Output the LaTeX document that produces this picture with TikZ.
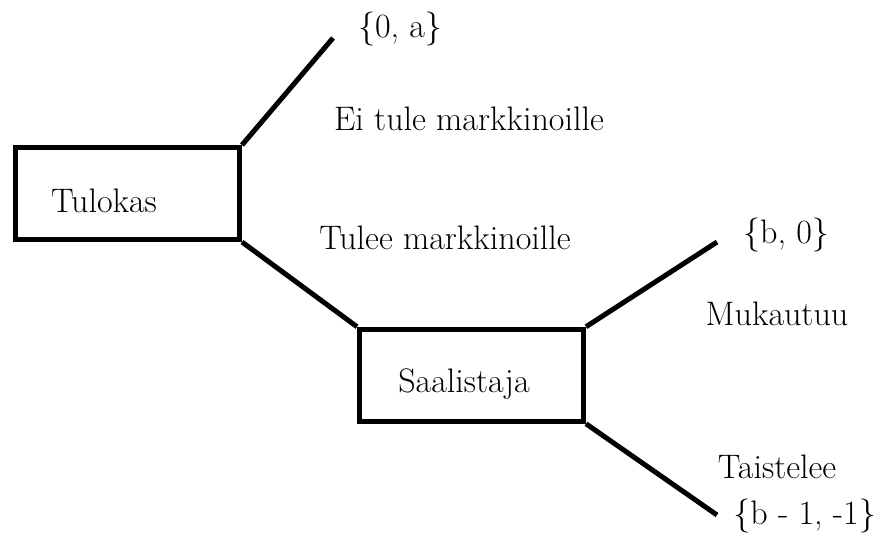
\documentclass[tikz,border=0pt]{standalone}
\begin{document}
\begin{tikzpicture}[x=1pt,y=-1pt,
  box/.style={draw=black,line width=5pt,rectangle,minimum width=224pt,minimum height=92pt,inner sep=0pt},
  edge/.style={draw=black,line width=5pt},
  lbl/.style={anchor=base,inner sep=0pt,font=\fontsize{34}{40}\selectfont}]
\useasboundingbox (0,0) rectangle (878,550);
\fill[white] (0,0) rectangle (878,550);
% boxes
\node[box] (tulokas) at (127.5,193.5) {};
\node[box] (saal) at (471.5,375.25) {};
% free ends
\coordinate (oa) at (333,38);
\coordinate (b0) at (717,242);
\coordinate (b1) at (717,515);
% connectors
\draw[edge] (tulokas.north east) -- (oa);
\draw[edge] (tulokas.south east) -- (saal.north west);
\draw[edge] (saal.north east) -- (b0);
\draw[edge] (saal.south east) -- (b1);
% texts
\node[lbl] (t1) at (104,212) {Tulokas};
\node[lbl] (t2) at (464,392) {Saalistaja};
\node[lbl] (p1) at (400,37) {\{0, a\}};
\node[lbl] (l1) at (469,130) {Ei tule markkinoille};
\node[lbl] (l2) at (445,249) {Tulee markkinoille};
\node[lbl] (p2) at (786,243) {\{b, 0\}};
\node[lbl] (l3) at (777,325) {Mukautuu};
\node[lbl] (l4) at (777,478) {Taistelee};
\node[lbl,anchor=base east] (p3) at (876,524) {\{b - 1, -1\}};
\end{tikzpicture}
\end{document}
